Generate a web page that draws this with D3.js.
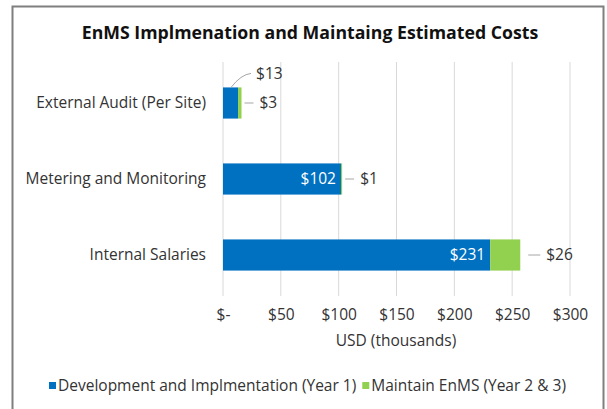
<!DOCTYPE html>
<html>
<head>
<meta charset="utf-8">
<script src="https://cdn.jsdelivr.net/npm/d3@7"></script>
<style>
  body { margin: 0; background: #fff; }
  svg { display: block; }
  text { font-family: "Open Sans", Lato, sans-serif; }
</style>
</head>
<body>
<svg id="chart" width="607" height="409"></svg>
<script>
var categories = ["External Audit (Per Site)", "Metering and Monitoring", "Internal Salaries"];
var devValues = [13, 102, 231];
var maintValues = [3, 1, 26];
var seriesNames = ["Development and Implmentation (Year 1)", "Maintain EnMS (Year 2 & 3)"];
var tickValues = [0, 50, 100, 150, 200, 250, 300];
var tickLabels = ["$-", "$50", "$100", "$150", "$200", "$250", "$300"];

var blue = "#0070c0", green = "#92d050", ink = "#333333";
var font = "\"Open Sans\", Lato, sans-serif";
var fs = 15.5;
var svg = d3.select("#chart");

// outer frame, bottom edge runs off the picture
svg.append("rect").attr("x", 12.5).attr("y", 6.5).attr("width", 591).attr("height", 420)
    .attr("fill", "#fff").attr("stroke", "#7f7f7f").attr("stroke-width", 2);

svg.append("text").attr("x", 310).attr("y", 39).attr("text-anchor", "middle")
    .attr("font-size", 17.7).attr("font-weight", "bold").attr("fill", "#111")
    .text("EnMS Implmenation and Maintaing Estimated Costs");

var x = d3.scaleLinear().domain([0, 300]).range([223, 570]);
var y = d3.scaleBand().domain(categories).range([65, 293]).paddingInner(0.59).paddingOuter(0.295);

// gridlines
svg.append("g").selectAll("line").data(tickValues).join("line")
    .attr("x1", function (d) { return x(d); }).attr("x2", function (d) { return x(d); })
    .attr("y1", 62).attr("y2", 296)
    .attr("stroke", "#d9d9d9").attr("stroke-width", 1);

var xAxis = d3.axisBottom(x).tickValues(tickValues)
    .tickFormat(function (d, i) { return tickLabels[i]; }).tickSize(0).tickPadding(0);
var gx = svg.append("g").attr("transform", "translate(0,309)").call(xAxis);
gx.select(".domain").remove();
gx.selectAll("text").attr("font-size", fs).attr("fill", ink).attr("font-family", font);

svg.append("text").attr("x", 396).attr("y", 346).attr("text-anchor", "middle")
    .attr("font-size", fs).attr("fill", ink).text("USD (thousands)");

var yAxis = d3.axisLeft(y).tickSize(0).tickPadding(0);
var gy = svg.append("g").attr("transform", "translate(206,0)").call(yAxis);
gy.select(".domain").remove();
gy.selectAll("text").attr("font-size", fs).attr("fill", ink).attr("font-family", font);

var rows = categories.map(function (c, i) {
    return { cat: c, dev: devValues[i], maint: maintValues[i] };
});

var bars = svg.append("g");
bars.selectAll("rect.dev").data(rows).join("rect").attr("class", "dev")
    .attr("x", x(0)).attr("y", function (d) { return y(d.cat); })
    .attr("width", function (d) { return x(d.dev) - x(0); })
    .attr("height", y.bandwidth()).attr("fill", blue);
bars.selectAll("rect.maint").data(rows).join("rect").attr("class", "maint")
    .attr("x", function (d) { return x(d.dev); }).attr("y", function (d) { return y(d.cat); })
    .attr("width", function (d) { return x(d.dev + d.maint) - x(d.dev); })
    .attr("height", y.bandwidth()).attr("fill", green);

var mid = function (d) { return y(d.cat) + y.bandwidth() / 2; };
var labels = svg.append("g").attr("font-size", fs);

// blue labels: inside end when the bar is wide enough, else above with a leader
rows.forEach(function (d) {
    var w = x(d.dev) - x(0);
    if (w > 40) {
        labels.append("text").attr("x", x(d.dev) - 5).attr("y", mid(d)).attr("dy", "0.35em")
            .attr("text-anchor", "end").attr("fill", "#fff").text("$" + d.dev);
    } else {
        var x0 = x(d.dev) - 7, y0 = y(d.cat);
        labels.append("path")
            .attr("d", "M" + x0 + "," + y0 + "Q" + (x0 + 10) + "," + (y0 - 13) + " " + (x0 + 20) + "," + (y0 - 14))
            .attr("fill", "none").attr("stroke", "#a6a6a6");
        labels.append("text").attr("x", x0 + 25).attr("y", y0 - 14).attr("dy", "0.35em")
            .attr("fill", ink).text("$" + d.dev);
    }
    var xe = x(d.dev + d.maint);
    var gap = d.maint > 10 ? 8 : 3;
    var len = d.maint > 10 ? 12 : 9;
    labels.append("line").attr("x1", xe + gap).attr("x2", xe + gap + len)
        .attr("y1", mid(d)).attr("y2", mid(d)).attr("stroke", "#a6a6a6");
    labels.append("text").attr("x", xe + gap + len + 6).attr("y", mid(d)).attr("dy", "0.35em")
        .attr("fill", ink).text("$" + d.maint);
});

// legend
var legend = svg.append("g").attr("font-size", fs);
var lx = 49;
[blue, green].forEach(function (c, i) {
    legend.append("rect").attr("x", lx).attr("y", 382).attr("width", 7).attr("height", 7).attr("fill", c);
    var t = legend.append("text").attr("x", lx + 9).attr("y", 386).attr("dy", "0.35em")
        .attr("fill", ink).text(seriesNames[i]);
    lx += 9 + t.node().getComputedTextLength() + 6;
});
</script>
</body>
</html>
